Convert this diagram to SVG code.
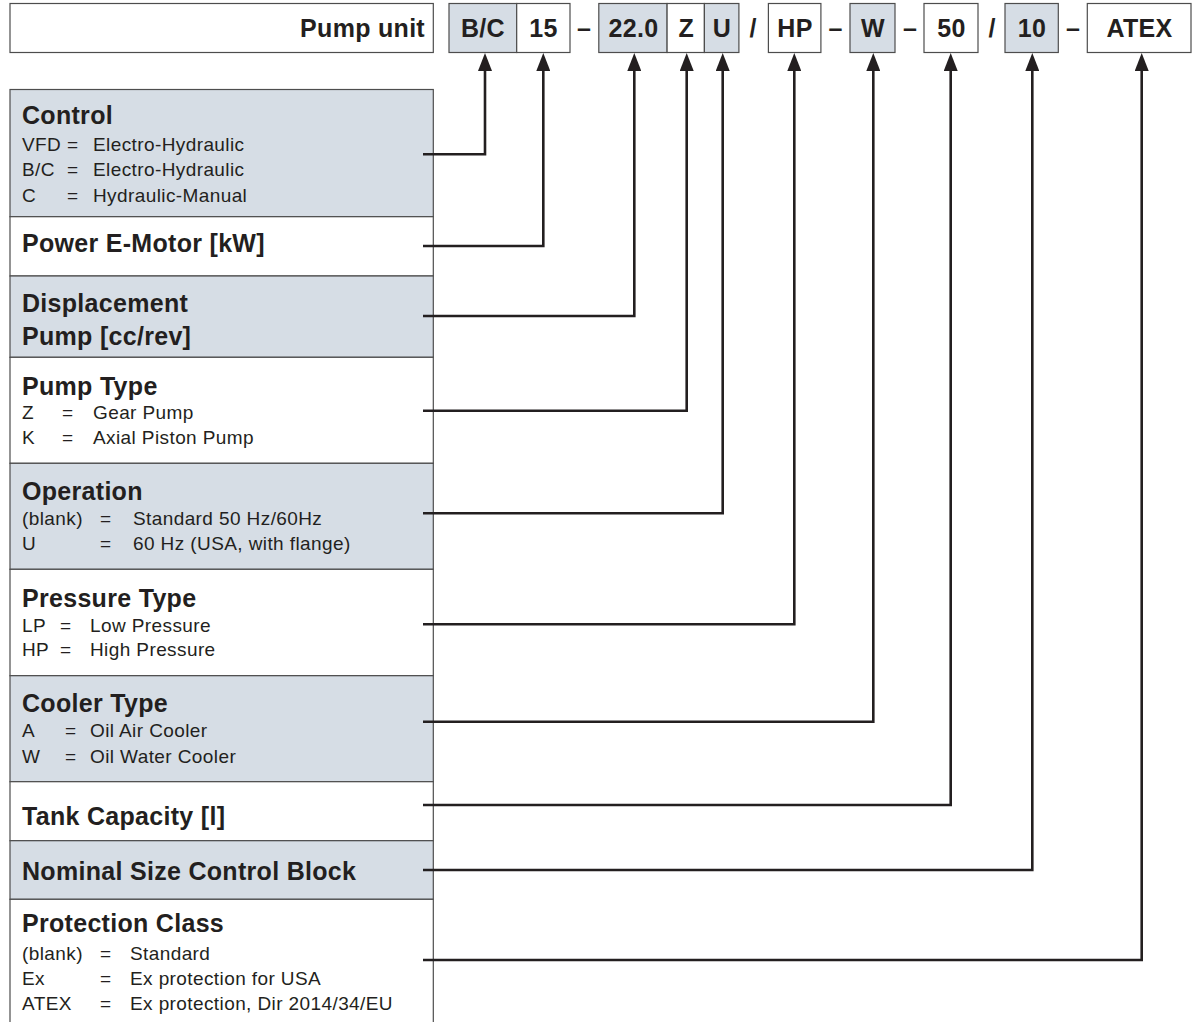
<svg xmlns="http://www.w3.org/2000/svg" width="1194" height="1022" viewBox="0 0 1194 1022">
<defs>
<style>
.box{stroke:#4d4d4d;stroke-width:1.2}
.sh{fill:#d6dde5}
.wh{fill:#ffffff}
.t{font-family:"Liberation Sans",Arial,sans-serif;font-weight:bold;font-size:25px;letter-spacing:0.3px;fill:#231f20}
.b{font-family:"Liberation Sans",Arial,sans-serif;font-size:19px;letter-spacing:0.4px;fill:#231f20}
.c{text-anchor:middle}
.con{fill:none;stroke:#231f20;stroke-width:2.6;stroke-linejoin:miter;marker-end:url(#arr)}
</style>
<marker id="arr" viewBox="0 0 18 14" markerWidth="18" markerHeight="14" refX="11" refY="7" orient="auto" markerUnits="userSpaceOnUse">
<path d="M0,0 L18,7 L0,14 z" fill="#231f20"/>
</marker>
</defs>
<rect width="1194" height="1022" fill="#ffffff"/>

<g id="code-bar">
<g id="pump-unit"><rect class="box wh" x="10" y="3.5" width="423.3" height="49"/><text class="t" x="425" y="36.5" text-anchor="end">Pump unit</text></g>
<g id="code-bc"><rect class="box sh" x="449" y="3.5" width="67.7" height="49"/><text class="t c" x="483" y="36.5">B/C</text></g>
<g id="code-15"><rect class="box wh" x="516.7" y="3.5" width="53.3" height="49"/><text class="t c" x="543.5" y="36.5">15</text></g>
<text class="t c" x="584" y="36.5">–</text>
<g id="code-22"><rect class="box sh" x="598.8" y="3.5" width="68.3" height="49"/><text class="t c" x="633.5" y="36.5">22.0</text></g>
<g id="code-z"><rect class="box wh" x="667.1" y="3.5" width="37.3" height="49"/><text class="t c" x="686.2" y="36.5">Z</text></g>
<g id="code-u"><rect class="box sh" x="704.4" y="3.5" width="34.5" height="49"/><text class="t c" x="722" y="36.5">U</text></g>
<text class="t c" x="753" y="36.5">/</text>
<g id="code-hp"><rect class="box wh" x="768.4" y="3.5" width="52.5" height="49"/><text class="t c" x="795" y="36.5">HP</text></g>
<text class="t c" x="835.5" y="36.5">–</text>
<g id="code-w"><rect class="box sh" x="850" y="3.5" width="45" height="49"/><text class="t c" x="873" y="36.5">W</text></g>
<text class="t c" x="910" y="36.5">–</text>
<g id="code-50"><rect class="box wh" x="924" y="3.5" width="54" height="49"/><text class="t c" x="951.5" y="36.5">50</text></g>
<text class="t c" x="992" y="36.5">/</text>
<g id="code-10"><rect class="box sh" x="1005" y="3.5" width="53.3" height="49"/><text class="t c" x="1032" y="36.5">10</text></g>
<text class="t c" x="1073" y="36.5">–</text>
<g id="code-atex"><rect class="box wh" x="1087.3" y="3.5" width="103.7" height="49"/><text class="t c" x="1139.5" y="36.5">ATEX</text></g>
</g>

<g id="control">
<rect class="box sh" x="10" y="89.5" width="423.3" height="127.2"/>
<text class="t" x="22" y="124.3">Control</text>
<text class="b" x="22" y="151">VFD</text><text class="b" x="67" y="151">=</text><text class="b" x="93" y="151">Electro-Hydraulic</text>
<text class="b" x="22" y="175.7">B/C</text><text class="b" x="67" y="175.7">=</text><text class="b" x="93" y="175.7">Electro-Hydraulic</text>
<text class="b" x="22" y="201.7">C</text><text class="b" x="67" y="201.7">=</text><text class="b" x="93" y="201.7">Hydraulic-Manual</text>
</g>
<g id="power">
<rect class="box wh" x="10" y="216.7" width="423.3" height="59.3"/>
<text class="t" x="22" y="251.7">Power E-Motor [kW]</text>
</g>
<g id="displacement">
<rect class="box sh" x="10" y="276" width="423.3" height="81.3"/>
<text class="t" x="22" y="311.7">Displacement</text>
<text class="t" x="22" y="345">Pump [cc/rev]</text>
</g>
<g id="pump-type">
<rect class="box wh" x="10" y="357.3" width="423.3" height="106"/>
<text class="t" x="22" y="395">Pump Type</text>
<text class="b" x="22" y="419">Z</text><text class="b" x="62" y="419">=</text><text class="b" x="93" y="419">Gear Pump</text>
<text class="b" x="22" y="444">K</text><text class="b" x="62" y="444">=</text><text class="b" x="93" y="444">Axial Piston Pump</text>
</g>
<g id="operation">
<rect class="box sh" x="10" y="463.3" width="423.3" height="106"/>
<text class="t" x="22" y="500">Operation</text>
<text class="b" x="22" y="525">(blank)</text><text class="b" x="100" y="525">=</text><text class="b" x="133" y="525">Standard 50 Hz/60Hz</text>
<text class="b" x="22" y="550">U</text><text class="b" x="100" y="550">=</text><text class="b" x="133" y="550">60 Hz (USA, with flange)</text>
</g>
<g id="pressure-type">
<rect class="box wh" x="10" y="569.3" width="423.3" height="106.4"/>
<text class="t" x="22" y="606.7">Pressure Type</text>
<text class="b" x="22" y="631.7">LP</text><text class="b" x="60" y="631.7">=</text><text class="b" x="90" y="631.7">Low Pressure</text>
<text class="b" x="22" y="656">HP</text><text class="b" x="60" y="656">=</text><text class="b" x="90" y="656">High Pressure</text>
</g>
<g id="cooler-type">
<rect class="box sh" x="10" y="675.7" width="423.3" height="106"/>
<text class="t" x="22" y="711.7">Cooler Type</text>
<text class="b" x="22" y="737.3">A</text><text class="b" x="65" y="737.3">=</text><text class="b" x="90" y="737.3">Oil Air Cooler</text>
<text class="b" x="22" y="763.3">W</text><text class="b" x="65" y="763.3">=</text><text class="b" x="90" y="763.3">Oil Water Cooler</text>
</g>
<g id="tank-capacity">
<rect class="box wh" x="10" y="781.7" width="423.3" height="59"/>
<text class="t" x="22" y="825">Tank Capacity [l]</text>
</g>
<g id="nominal-size">
<rect class="box sh" x="10" y="840.7" width="423.3" height="58.6"/>
<text class="t" x="22" y="880">Nominal Size Control Block</text>
</g>
<g id="protection-class">
<rect class="box wh" x="10" y="899.3" width="423.3" height="140"/>
<text class="t" x="22" y="931.7">Protection Class</text>
<text class="b" x="22" y="960">(blank)</text><text class="b" x="100" y="960">=</text><text class="b" x="130" y="960">Standard</text>
<text class="b" x="22" y="985">Ex</text><text class="b" x="100" y="985">=</text><text class="b" x="130" y="985">Ex protection for USA</text>
<text class="b" x="22" y="1010">ATEX</text><text class="b" x="100" y="1010">=</text><text class="b" x="130" y="1010">Ex protection, Dir 2014/34/EU</text>
</g>

<g id="connectors">
<path class="con" d="M423 154.3 H485 V60"/>
<path class="con" d="M423 246 H543.3 V60"/>
<path class="con" d="M423 316 H634.3 V60"/>
<path class="con" d="M423 410.7 H686.7 V60"/>
<path class="con" d="M423 513.3 H722.7 V60"/>
<path class="con" d="M423 624.3 H794.3 V60"/>
<path class="con" d="M423 721.7 H873.3 V60"/>
<path class="con" d="M423 805 H950.7 V60"/>
<path class="con" d="M423 870 H1032.3 V60"/>
<path class="con" d="M423 960 H1141.7 V60"/>
</g>
</svg>
